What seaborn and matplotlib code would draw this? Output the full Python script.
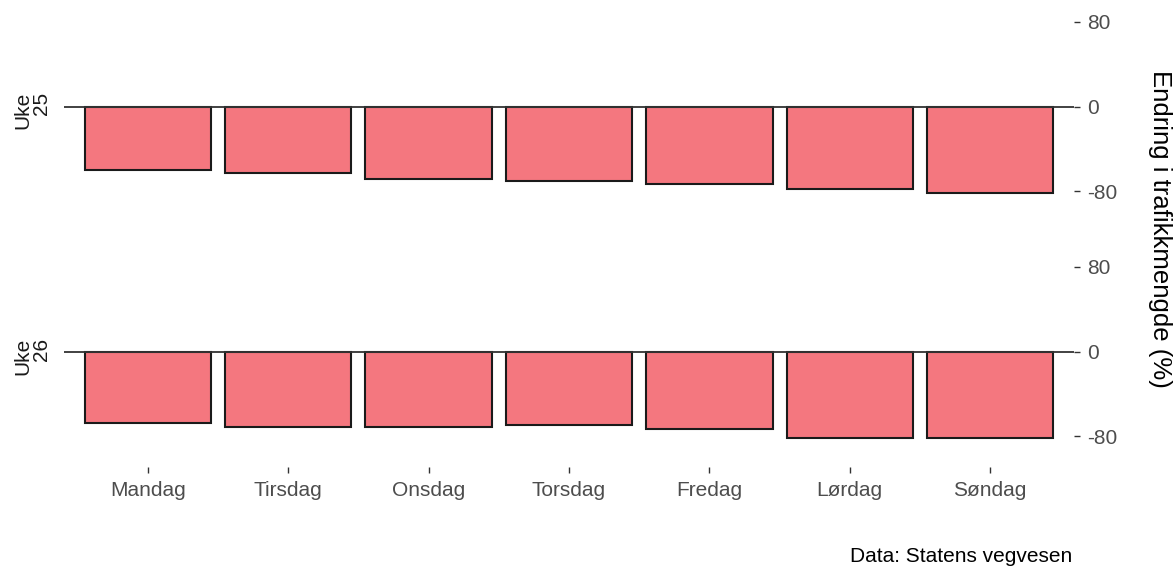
import seaborn as sns
import matplotlib.pyplot as plt
import pandas as pd

# ---- data ----
dager = ["Mandag", "Tirsdag", "Onsdag", "Torsdag", "Fredag", "Lørdag", "Søndag"]
uke25 = [-60, -63, -68.5, -70, -73, -78, -82]
uke26 = [-67.5, -71, -71, -69.5, -73, -81.5, -81.5]
uker = ["Uke\n25", "Uke\n26"]
y_ticks = [-80, 0, 80]

df = pd.DataFrame({
    "dag": dager * 2,
    "endring": uke25 + uke26,
    "uke": [uker[0]] * 7 + [uker[1]] * 7,
})

sns.set_style("white")
plt.rcParams["font.family"] = ["Liberation Sans", "DejaVu Sans"]

fig = plt.figure(figsize=(11.76, 5.70), dpi=100)

# panel positions (figure fractions) and y-limits
left, width = 0.0541, 0.8595
panels = [
    (uker[0], 0.600, (-114.6, 98.6)),
    (uker[1], 0.1807, (-108.8, 104.4)),
]
strip_top = [92, 338]

for i, (uke, bottom, ylim) in enumerate(panels):
    ax = fig.add_axes([left, bottom, width, 0.3965])
    sub = df[df["uke"] == uke]
    sns.barplot(
        data=sub, x="dag", y="endring", order=dager,
        color="#F4777F", saturation=1, width=0.9,
        edgecolor="#1a1a1a", linewidth=1.5, errorbar=None, ax=ax
    )
    ax.axhline(0, color="#333333", linewidth=1.3, zorder=3)
    ax.set_xlim(-0.6, 6.6)
    ax.set_ylim(*ylim)
    for s in ax.spines.values():
        s.set_visible(False)
    ax.yaxis.tick_right()
    ax.set_yticks(y_ticks)
    ax.set_yticklabels([str(t) for t in y_ticks])
    ax.tick_params(axis="y", length=4, width=1, color="#333333",
                   labelcolor="#4D4D4D", labelsize=15, pad=5)
    ax.set_xlabel("")
    ax.set_ylabel("")
    if i == 0:
        ax.set_xticks([])
    else:
        ax.tick_params(axis="x", length=4, width=1, color="#333333",
                       labelcolor="#4D4D4D", labelsize=15, pad=6,
                       bottom=True)
    fig.text(32 / 1176, 1 - strip_top[i] / 570, uke, rotation=90,
             ha="center", va="top", multialignment="right",
             fontsize=15, color="#1a1a1a", linespacing=1.0)

fig.text(1160 / 1176, 1 - 229 / 570, "Endring i trafikkmengde (%)",
         rotation=270, ha="center", va="center", fontsize=18.5,
         color="black")
fig.text(1072 / 1176, 1 - 557 / 570, "Data: Statens vegvesen",
         ha="right", va="center", fontsize=15, color="black")

fig.savefig("out.png", dpi=100)
